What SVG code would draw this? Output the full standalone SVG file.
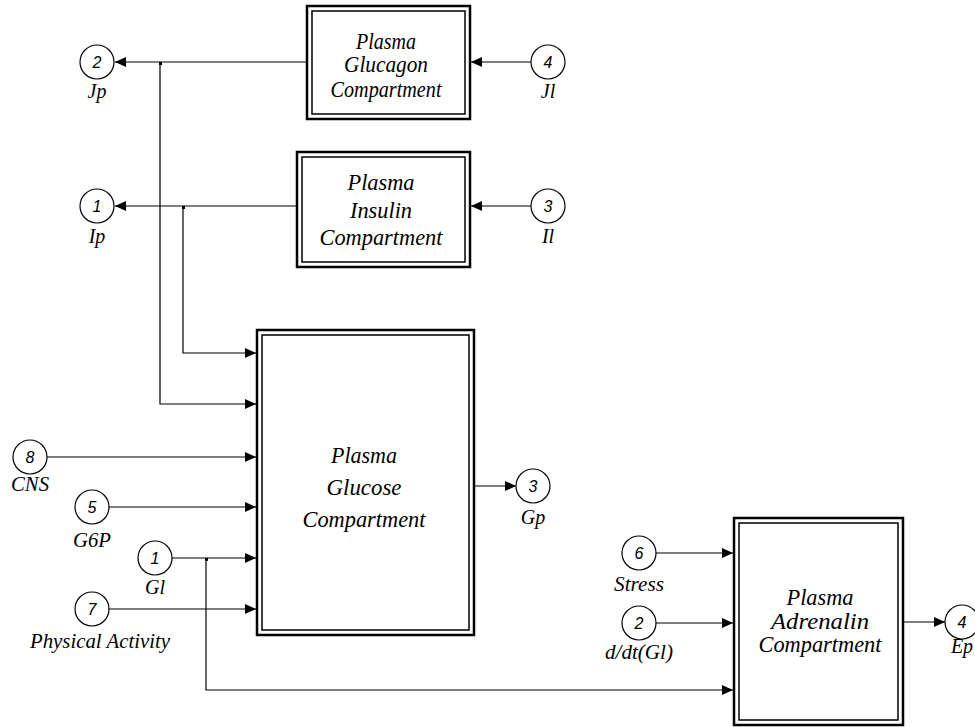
<svg xmlns="http://www.w3.org/2000/svg" width="975" height="727" viewBox="0 0 975 727">
<style>
.bo{fill:#fff;stroke:#000;stroke-width:2.5}
.bi{fill:none;stroke:#000;stroke-width:1.5}
.bt{font-family:"Liberation Serif","Times New Roman",serif;font-style:italic;font-size:23px;text-anchor:middle;fill:#000}
.port{fill:#fff;stroke:#000;stroke-width:1.2}
.pn{font-family:"Liberation Sans",Arial,sans-serif;font-style:italic;font-size:16px;text-anchor:middle;fill:#000}
.pl{font-family:"Liberation Serif","Times New Roman",serif;font-style:italic;font-size:20px;text-anchor:middle;fill:#000}
.ln{fill:none;stroke:#000;stroke-width:1.2}
</style>
<defs>
<marker id="ah" markerUnits="userSpaceOnUse" markerWidth="12" markerHeight="10" refX="11" refY="5" orient="auto">
<path d="M0,0 L11,5 L0,10 Z" fill="#000"/>
</marker>
</defs>

<g id="connectors">
<path class="ln" d="M307,62 H115" marker-end="url(#ah)"/>
<path class="ln" d="M531,62 H471" marker-end="url(#ah)"/>
<path class="ln" d="M160,62 V404 H256" marker-end="url(#ah)"/>
<path class="ln" d="M297,206 H115" marker-end="url(#ah)"/>
<path class="ln" d="M531,206 H471" marker-end="url(#ah)"/>
<path class="ln" d="M183,206 V353 H256" marker-end="url(#ah)"/>
<path class="ln" d="M47,457 H256" marker-end="url(#ah)"/>
<path class="ln" d="M109,507 H256" marker-end="url(#ah)"/>
<path class="ln" d="M172,558 H256" marker-end="url(#ah)"/>
<path class="ln" d="M206,558 V690 H733" marker-end="url(#ah)"/>
<path class="ln" d="M109,609 H256" marker-end="url(#ah)"/>
<path class="ln" d="M475,486 H516" marker-end="url(#ah)"/>
<path class="ln" d="M656,553 H733" marker-end="url(#ah)"/>
<path class="ln" d="M656,623 H733" marker-end="url(#ah)"/>
<path class="ln" d="M904,622 H945" marker-end="url(#ah)"/>
<rect x="159" y="62" width="3" height="3" fill="#000"/>
<rect x="182" y="206" width="3" height="3" fill="#000"/>
<rect x="205" y="558" width="3" height="3" fill="#000"/>
</g>

<g id="glucagon">
<rect class="bo" x="307" y="6" width="163" height="113"/>
<rect class="bi" x="312" y="11" width="153" height="103"/>
<text class="bt" x="386" y="49" textLength="60" lengthAdjust="spacingAndGlyphs">Plasma</text>
<text class="bt" x="386" y="72" textLength="84" lengthAdjust="spacingAndGlyphs">Glucagon</text>
<text class="bt" x="386" y="97" textLength="111" lengthAdjust="spacingAndGlyphs">Compartment</text>
</g>

<g id="insulin">
<rect class="bo" x="297" y="152" width="173" height="115"/>
<rect class="bi" x="302" y="157" width="163" height="105"/>
<text class="bt" x="381" y="190" textLength="67" lengthAdjust="spacingAndGlyphs">Plasma</text>
<text class="bt" x="381" y="218" textLength="62" lengthAdjust="spacingAndGlyphs">Insulin</text>
<text class="bt" x="381" y="245" textLength="123" lengthAdjust="spacingAndGlyphs">Compartment</text>
</g>

<g id="glucose">
<rect class="bo" x="257" y="330" width="217" height="305"/>
<rect class="bi" x="262" y="335" width="207" height="295"/>
<text class="bt" x="364" y="463" textLength="66" lengthAdjust="spacingAndGlyphs">Plasma</text>
<text class="bt" x="364" y="495" textLength="75" lengthAdjust="spacingAndGlyphs">Glucose</text>
<text class="bt" x="364" y="527" textLength="123" lengthAdjust="spacingAndGlyphs">Compartment</text>
</g>

<g id="adrenalin">
<rect class="bo" x="734" y="518" width="169" height="207"/>
<rect class="bi" x="739" y="523" width="159" height="197"/>
<text class="bt" x="820" y="605" textLength="67" lengthAdjust="spacingAndGlyphs">Plasma</text>
<text class="bt" x="820" y="629" textLength="98" lengthAdjust="spacingAndGlyphs">Adrenalin</text>
<text class="bt" x="820" y="652" textLength="123" lengthAdjust="spacingAndGlyphs">Compartment</text>
</g>

<g id="out-jp">
<circle class="port" cx="97" cy="62" r="17"/>
<text class="pn" x="97" y="68">2</text>
<text class="pl" x="97" y="98">Jp</text>
</g>
<g id="in-jl">
<circle class="port" cx="548" cy="62" r="17"/>
<text class="pn" x="548" y="68">4</text>
<text class="pl" x="548" y="98">Jl</text>
</g>
<g id="out-ip">
<circle class="port" cx="97" cy="206" r="17"/>
<text class="pn" x="97" y="212">1</text>
<text class="pl" x="97" y="243">Ip</text>
</g>
<g id="in-il">
<circle class="port" cx="548" cy="206" r="17"/>
<text class="pn" x="548" y="212">3</text>
<text class="pl" x="548" y="243">Il</text>
</g>
<g id="in-cns">
<circle class="port" cx="30" cy="457" r="17"/>
<text class="pn" x="30" y="463">8</text>
<text class="pl" x="30" y="491" textLength="38" lengthAdjust="spacingAndGlyphs">CNS</text>
</g>
<g id="in-g6p">
<circle class="port" cx="92" cy="507" r="17"/>
<text class="pn" x="92" y="513">5</text>
<text class="pl" x="92" y="547" textLength="38" lengthAdjust="spacingAndGlyphs">G6P</text>
</g>
<g id="in-gl">
<circle class="port" cx="155" cy="558" r="17"/>
<text class="pn" x="155" y="564">1</text>
<text class="pl" x="155" y="594">Gl</text>
</g>
<g id="in-pa">
<circle class="port" cx="92" cy="609" r="17"/>
<text class="pn" x="92" y="615">7</text>
<text class="pl" x="100" y="648" textLength="140" lengthAdjust="spacingAndGlyphs">Physical Activity</text>
</g>
<g id="out-gp">
<circle class="port" cx="533" cy="486" r="17"/>
<text class="pn" x="533" y="492">3</text>
<text class="pl" x="533" y="524">Gp</text>
</g>
<g id="in-stress">
<circle class="port" cx="639" cy="553" r="17"/>
<text class="pn" x="639" y="559">6</text>
<text class="pl" x="639" y="591" textLength="50" lengthAdjust="spacingAndGlyphs">Stress</text>
</g>
<g id="in-dgl">
<circle class="port" cx="639" cy="623" r="17"/>
<text class="pn" x="639" y="629">2</text>
<text class="pl" x="639" y="659" textLength="68" lengthAdjust="spacingAndGlyphs">d/dt(Gl)</text>
</g>
<g id="out-ep">
<circle class="port" cx="962" cy="622" r="17"/>
<text class="pn" x="962" y="628">4</text>
<text class="pl" x="962" y="653">Ep</text>
</g>
</svg>
